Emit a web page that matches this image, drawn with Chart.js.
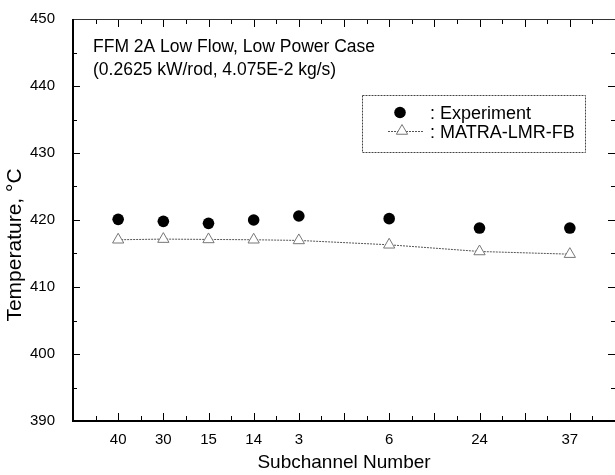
<!DOCTYPE html>
<html>
<head>
<meta charset="utf-8">
<script src="https://cdn.jsdelivr.net/npm/chart.js@4/dist/chart.umd.min.js"></script>
<style>
  body { margin: 0; background: #fff; }
  #grafico { display: block; }
</style>
</head>
<body>
<canvas id="grafico" width="615" height="475"></canvas>
<script>
// subchannels in the order they sit on the axis, and where each one sits
const canais = ['40', '30', '15', '14', '3', '6', '24', '37'];
const posicoes = [1, 2, 3, 4, 5, 7, 9, 11];

// outlet temperatures (°C)
const experimento = [420.1, 419.8, 419.5, 420.0, 420.6, 420.2, 418.8, 418.8];
const matra = [417.05, 417.15, 417.1, 417.05, 416.95, 416.3, 415.3, 414.9];

const ticksY = [390, 400, 410, 420, 430, 440, 450];

const fonte = "'Liberation Sans', Arial, sans-serif";

const rotuloX = {};
posicoes.forEach((p, i) => { rotuloX[p] = canais[i]; });

const pontos = (vals) => vals.map((v, i) => ({ x: posicoes[i], y: v }));

// ticks para dentro nos quatro lados, moldura, textos e legenda
const extras = {
  id: 'extras',
  afterDraw(chart) {
    const { ctx, chartArea: a, scales: { x, y } } = chart;
    ctx.save();

    ctx.strokeStyle = '#000';
    ctx.lineWidth = 1;
    ctx.beginPath();
    for (let v = 0.5; v < 12; v += 0.5) {
      const px = Math.round(x.getPixelForValue(v)) + 0.5;
      const len = v % 1 === 0 ? 8 : 5;
      ctx.moveTo(px, a.bottom); ctx.lineTo(px, a.bottom - len);
      ctx.moveTo(px, a.top); ctx.lineTo(px, a.top + len);
    }
    for (let v = 395; v < 450; v += 5) {
      const py = Math.round(y.getPixelForValue(v)) + 0.5;
      const len = v % 10 === 0 ? 7 : 4;
      ctx.moveTo(a.left, py); ctx.lineTo(a.left + len, py);
      ctx.moveTo(a.right, py); ctx.lineTo(a.right - len, py);
    }
    ctx.stroke();

    // topo fino
    ctx.strokeStyle = '#333';
    ctx.beginPath();
    ctx.moveTo(a.left, a.top + 0.5); ctx.lineTo(a.right, a.top + 0.5);
    ctx.stroke();

    // eixos esquerdo e inferior grossos
    ctx.strokeStyle = '#000';
    ctx.lineWidth = 2;
    ctx.beginPath();
    ctx.moveTo(a.left, a.top); ctx.lineTo(a.left, a.bottom);
    ctx.lineTo(a.right, a.bottom);
    ctx.stroke();

    // titulo do eixo y
    ctx.fillStyle = '#000';
    ctx.font = '21px ' + fonte;
    ctx.textAlign = 'center';
    ctx.textBaseline = 'middle';
    ctx.save();
    ctx.translate(15, 245);
    ctx.rotate(-Math.PI / 2);
    ctx.fillText('Temperature, °C', 0, 0);
    ctx.restore();

    // caso
    ctx.font = '17.5px ' + fonte;
    ctx.textAlign = 'left';
    ctx.textBaseline = 'alphabetic';
    ctx.fillText('FFM 2A Low Flow, Low Power Case', 93, 52);
    ctx.fillText('(0.2625 kW/rod, 4.075E-2 kg/s)', 93, 75);

    // legenda
    ctx.lineWidth = 1;
    ctx.strokeStyle = '#444';
    ctx.setLineDash([2, 1]);
    ctx.strokeRect(362.5, 95.5, 223, 57);

    ctx.strokeStyle = '#555';
    ctx.beginPath();
    ctx.moveTo(388, 131.5); ctx.lineTo(423, 131.5);
    ctx.stroke();
    ctx.setLineDash([]);

    ctx.fillStyle = '#000';
    ctx.beginPath();
    ctx.arc(400, 112.5, 5.8, 0, Math.PI * 2);
    ctx.fill();

    const r = 6.5;
    ctx.fillStyle = '#fff';
    ctx.strokeStyle = '#777';
    ctx.beginPath();
    for (let k = 0; k < 3; k++) {
      const ang = k * 2 * Math.PI / 3;
      const tx = 402 + Math.sin(ang) * r;
      const ty = 131 - Math.cos(ang) * r;
      if (k === 0) ctx.moveTo(tx, ty); else ctx.lineTo(tx, ty);
    }
    ctx.closePath();
    ctx.fill();
    ctx.stroke();

    ctx.fillStyle = '#000';
    ctx.font = '18px ' + fonte;
    ctx.fillText(': Experiment', 430, 119);
    ctx.fillText(': MATRA-LMR-FB', 430, 138);

    ctx.restore();
  }
};

const dadosTemp = {
  datasets: [
    {
      label: ': Experiment',
      data: pontos(experimento),
      pointStyle: 'circle',
      pointRadius: 5.8,
      backgroundColor: '#000',
      borderColor: '#000',
      borderWidth: 0,
      showLine: false,
      order: 1,
    },
    {
      label: ': MATRA-LMR-FB',
      data: pontos(matra),
      pointStyle: 'triangle',
      pointRadius: 6.5,
      pointBackgroundColor: '#fff',
      pointBorderColor: '#777',
      pointBorderWidth: 1,
      borderColor: '#555',
      borderWidth: 1,
      borderDash: [2, 1],
      showLine: true,
      order: 2,
    },
  ]
};

const configTemp = {
  type: 'scatter',
  data: dadosTemp,
  options: {
    responsive: false,
    animation: false,
    layout: { autoPadding: false, padding: { top: 17, right: 0, left: 0, bottom: 0 } },
    plugins: {
      legend: { display: false },
      tooltip: { enabled: false },
    },
    scales: {
      x: {
        type: 'linear',
        min: 0,
        max: 12,
        grid: { display: false },
        border: { display: false },
        afterFit: (s) => { s.height = 54; s.paddingRight = 0; s.paddingLeft = 0; },
        ticks: {
          stepSize: 1,
          autoSkip: false,
          maxRotation: 0,
          padding: 2,
          color: '#000',
          font: { family: fonte, size: 15 },
          callback: (v) => rotuloX[v] || '',
        },
        title: {
          display: true,
          text: 'Subchannel Number',
          color: '#000',
          font: { family: fonte, size: 19 },
          padding: { top: 0, bottom: 1 },
        },
      },
      y: {
        min: 390,
        max: 450,
        grid: { display: false },
        border: { display: false },
        afterFit: (s) => { s.width = 73; },
        afterBuildTicks: (s) => { s.ticks = ticksY.map(v => ({ value: v })); },
        ticks: {
          padding: 10,
          color: '#000',
          font: { family: fonte, size: 15 },
        },
      },
    },
  },
  plugins: [extras],
};

const grafico = new Chart(document.getElementById('grafico'), configTemp);
</script>
</body>
</html>
